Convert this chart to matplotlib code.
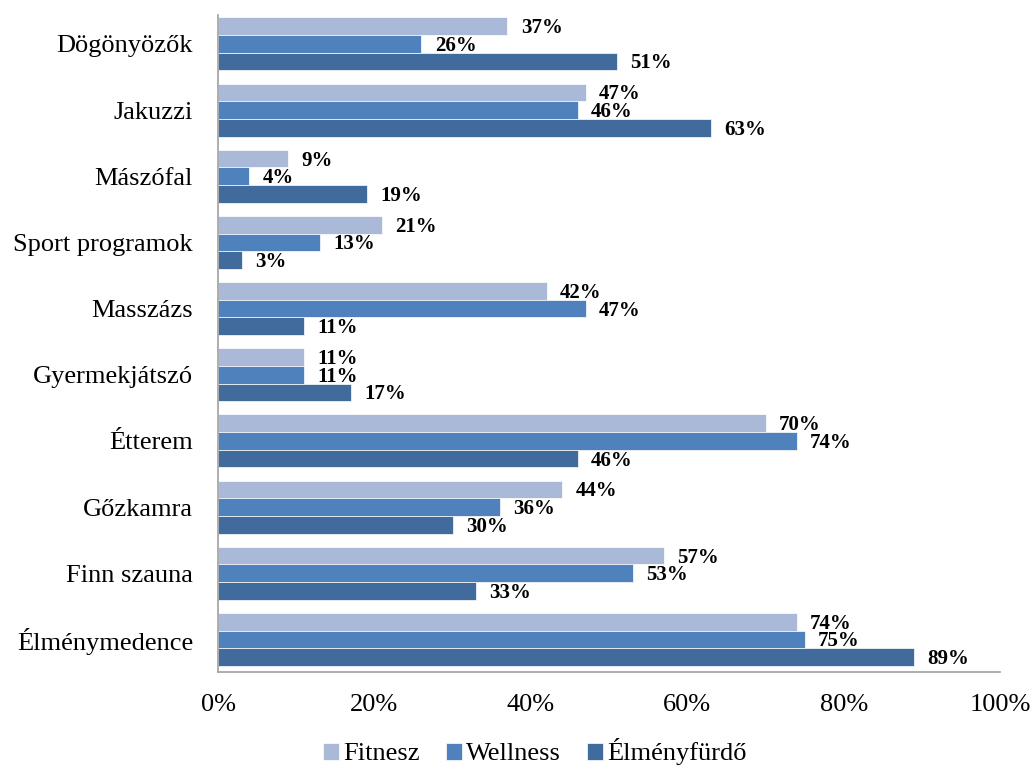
import numpy as np
import matplotlib.pyplot as plt
from matplotlib.ticker import PercentFormatter

# kategóriák felülről lefelé
categories = ['Dögönyözők', 'Jakuzzi', 'Mászófal', 'Sport programok', 'Masszázs',
              'Gyermekjátszó', 'Étterem', 'Gőzkamra', 'Finn szauna', 'Élménymedence']
fitnesz = [37, 47, 9, 21, 42, 11, 70, 44, 57, 74]
wellness = [26, 46, 4, 13, 47, 11, 74, 36, 53, 75]
elmeny = [51, 63, 19, 3, 11, 17, 46, 30, 33, 89]
series_names = ['Fitnesz', 'Wellness', 'Élményfürdő']
colors = ['#A9B9D7', '#4F81BD', '#416B9C']

plt.rcParams['font.family'] = ['Liberation Serif', 'DejaVu Serif']

fig = plt.figure(figsize=(10.3, 7.67), dpi=100)
ax = fig.add_axes([0.2117, 0.124, 0.7593, 0.856])

n = len(categories)
y = np.arange(n)[::-1].astype(float)
h = 0.267
offsets = [h, 0, -h]

for vals, name, col, off in zip([fitnesz, wellness, elmeny], series_names, colors, offsets):
    ax.barh(y + off, vals, height=h, color=col, label=name, edgecolor='white', linewidth=0.5)
    for yy, v in zip(y + off, vals):
        ax.text(v + 1.7, yy - 0.03, f'{v}%', va='center', ha='left',
                fontsize=15, fontweight='bold')

ax.set_xlim(0, 100)
ax.set_ylim(-0.49, n - 1 + 1.5 * h + 0.03)
ax.set_yticks(y)
ax.set_yticklabels(categories, fontsize=19)
ax.xaxis.set_major_formatter(PercentFormatter(decimals=0))
ax.set_xticks(np.arange(0, 101, 20))
ax.tick_params(axis='x', labelsize=19, length=0, pad=16)
ax.tick_params(axis='y', length=0, pad=18)

for s in ['top', 'right']:
    ax.spines[s].set_visible(False)
for s in ['left', 'bottom']:
    ax.spines[s].set_color('#A0A0A0')
    ax.spines[s].set_linewidth(1.2)

ax.legend(loc='center', bbox_to_anchor=(0.405, -0.122), ncol=3, frameon=False,
          fontsize=19, handlelength=0.6, handleheight=0.6, handletextpad=0.15,
          columnspacing=1.0, borderpad=0.2)

fig.savefig('out.png', dpi=100)
